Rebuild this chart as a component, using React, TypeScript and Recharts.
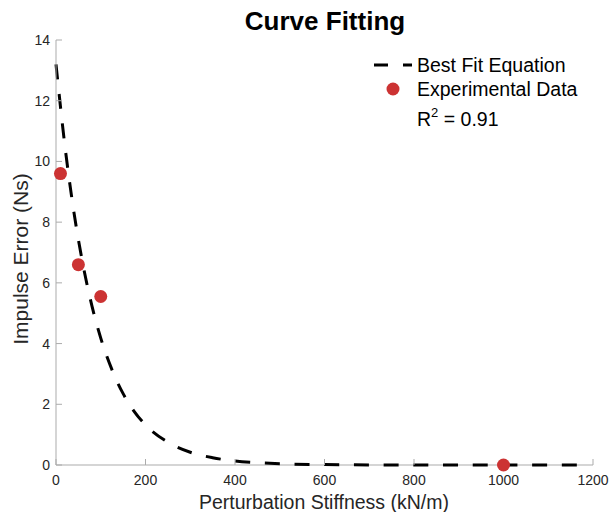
import React from "react";
import {
  ComposedChart,
  Line,
  Scatter,
  XAxis,
  YAxis,
  ReferenceLine,
} from "recharts";

// fitted curve
const fitX = [0, 20, 40, 60, 80, 100, 125, 150, 175, 200, 250, 300, 350, 400, 450, 500, 600, 700, 800, 900, 1000, 1100, 1170];
const fitY = [13.2, 10.5, 8.33, 6.62, 5.26, 4.18, 3.14, 2.35, 1.76, 1.32, 0.75, 0.42, 0.24, 0.13, 0.075, 0.042, 0.013, 0.004, 0.001, 0, 0, 0, 0];

// experimental points
const expX = [10, 50, 100, 1000];
const expY = [9.6, 6.6, 5.55, 0];

const xTicks = [0, 200, 400, 600, 800, 1000, 1200];
const yTicks = [0, 2, 4, 6, 8, 10, 12, 14];

const fitData = fitX.map((x, i) => ({ x, y: fitY[i] }));
const expData = expX.map((x, i) => ({ x, y: expY[i] }));

const FONT = '"Liberation Sans", Arial, Helvetica, sans-serif';
const AXIS = "#ababab";
const TEXT = "#262626";
const RED = "#cc3333";

const Dot = (props: any) => (
  <circle cx={props.cx} cy={props.cy} r={6.5} fill={RED} />
);

export default function App() {
  return (
    <div
      style={{
        position: "absolute",
        left: 0,
        top: 0,
        width: 611,
        height: 512,
        background: "#fff",
        fontFamily: FONT,
      }}
    >
      <ComposedChart
        width={611}
        height={512}
        margin={{ top: 40, right: 18, left: 0, bottom: 0 }}
      >
        <XAxis
          dataKey="x"
          type="number"
          domain={[0, 1200]}
          ticks={xTicks}
          height={47}
          stroke={AXIS}
          axisLine={false}
          tickSize={-6}
          tickMargin={16}
          tick={{ fontSize: 14, fill: TEXT, fontFamily: FONT }}
        />
        <YAxis
          dataKey="y"
          type="number"
          domain={[0, 14]}
          ticks={yTicks}
          width={56}
          stroke={AXIS}
          tickSize={-6}
          tickMargin={12}
          tick={{ fontSize: 14, fill: TEXT, fontFamily: FONT }}
        />
        {/* x axis line, drawn under the curve */}
        <ReferenceLine y={0} stroke={AXIS} strokeWidth={1} />
        <Line
          data={fitData}
          dataKey="y"
          type="monotone"
          stroke="#000"
          strokeWidth={3}
          strokeDasharray="15 14.7"
          dot={false}
          activeDot={false}
          isAnimationActive={false}
        />
        <Scatter
          data={expData}
          dataKey="y"
          shape={Dot}
          isAnimationActive={false}
        />
      </ComposedChart>

      <svg
        width={611}
        height={512}
        style={{ position: "absolute", left: 0, top: 0, pointerEvents: "none" }}
        fontFamily={FONT}
      >
        <text x={325} y={30} textAnchor="middle" fontSize={26} fontWeight="bold" fill="#000">
          Curve Fitting
        </text>
        <text x={324} y={509} textAnchor="middle" fontSize={19.5} fill={TEXT}>
          Perturbation Stiffness (kN/m)
        </text>
        <text
          transform="translate(28,259) rotate(-90)"
          textAnchor="middle"
          fontSize={21}
          fill={TEXT}
        >
          Impulse Error (Ns)
        </text>

        {/* legend */}
        <line x1={374} y1={65} x2={412} y2={65} stroke="#000" strokeWidth={3} strokeDasharray="14 15" />
        <text x={417} y={72} fontSize={19.5} fill="#000">Best Fit Equation</text>
        <circle cx={393} cy={89} r={6.5} fill={RED} />
        <text x={417} y={96} fontSize={19.5} fill="#000">Experimental Data</text>
        <text x={417} y={126} fontSize={19.5} fill="#000">
          R<tspan dy={-9} fontSize={13}>2</tspan>
          <tspan dy={9}> = 0.91</tspan>
        </text>
      </svg>
    </div>
  );
}
